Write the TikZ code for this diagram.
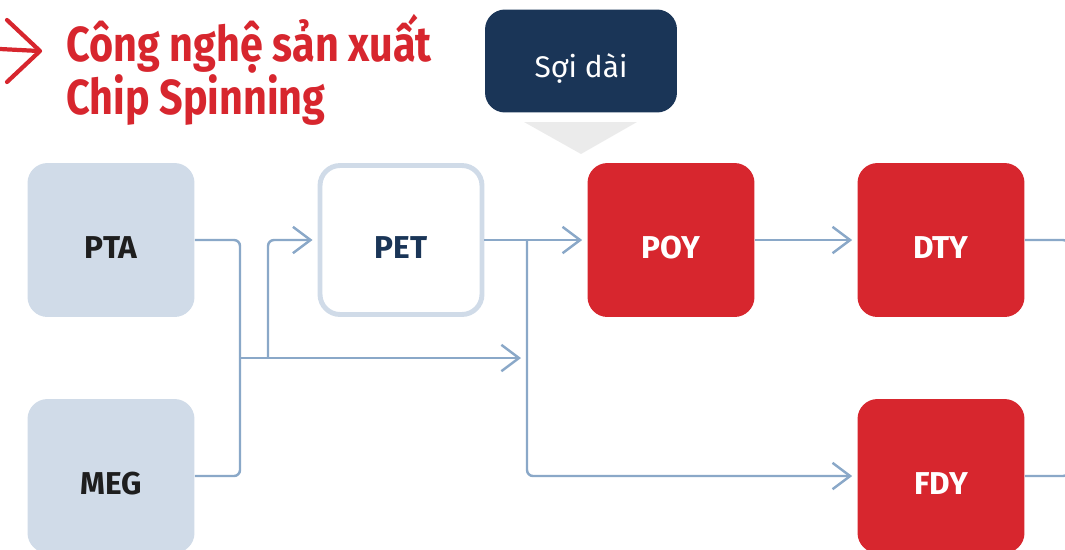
\documentclass[tikz,border=0pt]{standalone}
\usepackage{fontspec}
\setmainfont{Fira Sans}
\newfontfamily\titlefont[FakeStretch=0.84]{Fira Sans}
\usetikzlibrary{arrows.meta}
\definecolor{boxgrey}{HTML}{D0DBE8}
\definecolor{chipred}{HTML}{D7262E}
\definecolor{navy}{HTML}{1A3557}
\definecolor{linkblue}{HTML}{8AA8C8}
\definecolor{tipgrey}{HTML}{EBEBEB}
\definecolor{inkblack}{HTML}{1E1E1E}
\begin{document}
\begin{tikzpicture}[x=0.02cm,y=-0.02cm]
\tikzstyle{every node}+=[inner sep=0pt]
\tikzstyle{stage}=[rounded corners=0.4cm, minimum width=3.34cm, minimum height=3.08cm,
  font=\fontsize{18}{18}\selectfont\bfseries, text height=21pt, text depth=0pt]
\tikzstyle{raw}=[stage, fill=boxgrey, text=inkblack]
\tikzstyle{chip}=[stage, fill=white, draw=boxgrey, line width=2.8pt,
  minimum width=3.24cm, minimum height=2.98cm, text=navy]
\tikzstyle{yarn}=[stage, fill=chipred, text=white]
\tikzstyle{link}=[draw=linkblue, line width=1.4pt, rounded corners=0.12cm]
\tikzstyle{go}=[-{Straight Barb[length=10pt,width=15pt,line width=1.4pt]}, shorten >=0.1cm]
\useasboundingbox (0,0) rectangle (1065,549);
% title
\draw [chipred, line width=2.4pt, line cap=round, line join=round] (0,49) -- (39,51);
\draw [chipred, line width=2.4pt, line cap=round, line join=round] (7,20) -- (40,51) -- (7,82);
\node (title) [anchor=north west, align=left, text=chipred,
  font=\titlefont\fontsize{28}{25}\selectfont\bfseries] at (66,14)
  {Công nghệ sản xuất\\Chip Spinning};
% callout
\fill [tipgrey] (524,122) -- (637,122) -- (581,154) -- cycle;
\node (long) [fill=navy, rounded corners=0.4cm, minimum width=3.84cm, minimum height=2.06cm,
  text=white, font=\fontsize{17}{17}\selectfont, text height=19pt, text depth=0pt]
  at (581,61) {Sợi dài};
% stages
\node (pta) [raw] at (111,240) {PTA};
\node (meg) [raw] at (111,476) {MEG};
\node (pet) [chip] at (401,240) {PET};
\node (poy) [yarn] at (671,240) {POY};
\node (dty) [yarn] at (941,240) {DTY};
\node (fdy) [yarn] at (941,476) {FDY};
\coordinate (split) at (240,358);
\coordinate (fork) at (268,358);
\coordinate (join) at (526,358);
\coordinate (tap) at (527,240);
\coordinate (outtop) at (1069,300);
\coordinate (outbot) at (1069,420);
% connectors
\draw [link] (pta.east) -| (split) |- (meg.east);
\draw [link, go] (split) -- (join);
\draw [link, go] (fork) |- (pet.west);
\draw [link, go] (pet.east) -- (poy.west);
\draw [link, go] (tap) |- (fdy.west);
\draw [link, go] (poy.east) -- (dty.west);
\draw [link] (dty.east) -| (outtop);
\draw [link] (fdy.east) -| (outbot);
\end{tikzpicture}
\end{document}
